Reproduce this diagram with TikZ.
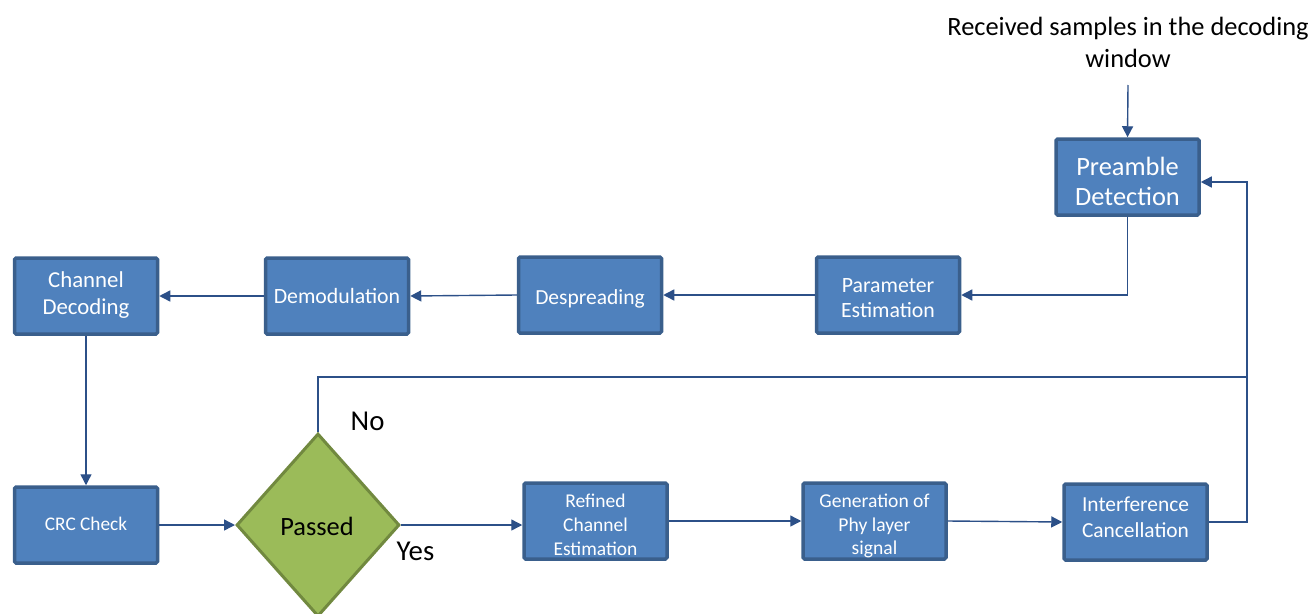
\documentclass[tikz,border=0pt]{standalone}
\usepackage{fontspec}
\setmainfont{Carlito}
\usetikzlibrary{shapes.geometric,arrows.meta}
\definecolor{boxfill}{HTML}{4F81BD}
\definecolor{boxline}{HTML}{3A5F8C}
\definecolor{lnk}{HTML}{2C5088}
\definecolor{dfill}{HTML}{9BBB59}
\definecolor{dline}{HTML}{71893F}
\newcommand\fs[1]{\fontsize{#1}{#1}\selectfont}
\tikzset{
  blk/.style={draw=boxline, fill=boxfill, line width=3.5pt, rounded corners=1.5pt,
    minimum width=143pt, minimum height=76pt, inner sep=0pt},
  bt/.style={text=white, inner sep=0pt, anchor=base},
  kt/.style={text=black, inner sep=0pt, anchor=base},
  arr/.style={draw=lnk, line width=1.4pt, -{Triangle[length=11pt,width=11pt]}},
  ln/.style={draw=lnk, line width=1.4pt},
  dec/.style={diamond, draw=dline, fill=dfill, line width=3pt, minimum width=163pt,
    minimum height=183pt, inner sep=0pt}
}
\begin{document}
\begin{tikzpicture}[x=1pt,y=-1pt]
\useasboundingbox (0,0) rectangle (1311,613);
\begin{scope}
\clip (0,0) rectangle (1311,613);
\node[dec] (ps) at (318,525) {};
\end{scope}
\node[kt, font=\fs{26.4}] (pst) at (317,535) {Passed};

\node[kt, font=\fs{26.4}] (rx1) at (1128,35) {Received samples in the decoding};
\node[kt, font=\fs{26.4}] (rx2) at (1128,67) {window};
\coordinate (rxb) at (1128,85);

\node[blk] (pd) at (1127.5,177) {};
\node[bt, font=\fs{26.4}] (pd1) at (1127.5,175) {Preamble};
\node[bt, font=\fs{26.4}] (pd2) at (1127.5,205) {Detection};

\node[blk] (pe) at (888,295) {};
\node[bt, font=\fs{21.8}] (pe1) at (888,292.5) {Parameter};
\node[bt, font=\fs{21.8}] (pe2) at (888,317.5) {Estimation};

\node[blk] (ds) at (590,295) {};
\node[bt, font=\fs{21.5}] (ds1) at (590,304) {Despreading};

\node[blk] (dm) at (337,296) {};
\node[bt, font=\fs{21.8}] (dm1) at (337,303) {Demodulation};

\node[blk] (cd) at (86,296) {};
\node[bt, font=\fs{22.8}] (cd1) at (86,287) {Channel};
\node[bt, font=\fs{22.8}] (cd2) at (86,314) {Decoding};

\node[blk] (crc) at (86,525) {};
\node[bt, font=\fs{19.3}] (crc1) at (86,530.5) {CRC Check};

\node[blk] (rc) at (595.5,521) {};
\node[bt, font=\fs{19.5}] (rc1) at (595.5,507.5) {Refined};
\node[bt, font=\fs{19.5}] (rc2) at (595.5,531.5) {Channel};
\node[bt, font=\fs{19.5}] (rc3) at (595.5,555) {Estimation};

\node[blk] (gp) at (874.5,521) {};
\node[bt, font=\fs{19.6}] (gp1) at (874.5,507) {Generation of};
\node[bt, font=\fs{19.6}] (gp2) at (874.5,531) {Phy layer};
\node[bt, font=\fs{19.6}] (gp3) at (874.5,554) {signal};

\node[blk] (ic) at (1135.5,522) {};
\node[bt, font=\fs{21.4}] (ic1) at (1135.5,511) {Interference};
\node[bt, font=\fs{21.4}] (ic2) at (1135.5,537) {Cancellation};

\node[kt, anchor=base west, font=\fs{28.8}] (no) at (350.5,430) {No};
\node[kt, anchor=base west, font=\fs{28.8}] (yes) at (396.5,560) {Yes};

\coordinate (rt) at (1247,182);
\coordinate (jn) at (1247,377);

\draw[arr] (rxb) -- (pd.north);
\draw[arr] (pd.south) |- (pe.east);
\draw[arr] (pe.west) -- (ds.east);
\draw[arr] (ds.west) -- (dm.east);
\draw[arr] (dm.west) -- (cd.east);
\draw[arr] (cd.south) -- (crc.north);
\draw[arr] (crc.east) -- (ps.west);
\draw[arr] (ps.east) -- (ps.east -| rc.west);
\draw[arr] (rc.east) -- (gp.west);
\draw[arr] (gp.east) -- (ic.west);
\draw[arr] (ic.east) -| (rt) -- (rt -| pd.east);
\draw[ln] (ps.north) |- (jn);
\end{tikzpicture}
\end{document}
